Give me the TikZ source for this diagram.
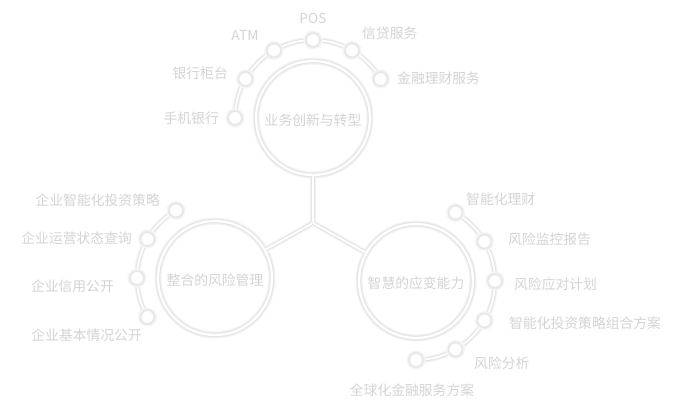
\documentclass[tikz,border=0pt]{standalone}
\usepackage{fontspec}
\setmainfont{Noto Sans CJK SC}
\usetikzlibrary{calc}
\begin{document}
\begin{tikzpicture}[x=1pt,y=1pt,
  lbl/.style={inner sep=0pt,text=black!17,font=\fontsize{13.8}{15}\selectfont},
  bigcirc/.style={circle,minimum size=114pt,inner sep=0pt,draw=white,line width=2.2pt,
    preaction={draw=black!5,line width=7pt},
    preaction={draw=black!10,line width=4.5pt}},
  dot/.style={circle,minimum size=14pt,inner sep=0pt,fill=white,draw=black!9,line width=2pt,
    preaction={draw=black!4,line width=5pt}},
  linkline/.style={draw=white,line width=1.8pt,
    preaction={draw=black!5,line width=6pt},
    preaction={draw=black!10,line width=3.8pt}}]
\fill[white] (0,0) rectangle (684,-413);
\useasboundingbox (0,0) rectangle (684,-413);
% centres
\coordinate (J) at (313,-223);
\coordinate (Tc) at (313,-118);
\coordinate (Lc) at (215,-278);
\coordinate (Rc) at (416,-281);
% big circles
\node[bigcirc] (T) at (Tc) {};
\node[bigcirc] (L) at (Lc) {};
\node[bigcirc] (R) at (Rc) {};
% connectors to junction
\path[linkline] (T) -- (J);
\path[linkline] (J) -- (L);
\path[linkline] (J) -- (R);
% arcs
\path[linkline] ($(Tc)+(180:78)$) arc[start angle=180,end angle=30,radius=78];
\path[linkline] ($(Lc)+(120:78)$) arc[start angle=120,end angle=210,radius=78];
\path[linkline] ($(Rc)+(60:79)$) arc[start angle=60,end angle=-90,radius=79];
% dots
\foreach \a/\n in {180/t1,150/t2,120/t3,90/t4,60/t5,30/t6}{\node[dot] (\n) at ($(Tc)+(\a:78)$) {};}
\foreach \a/\n in {120/l1,150/l2,180/l3,210/l4}{\node[dot] (\n) at ($(Lc)+(\a:78)$) {};}
\foreach \a/\n in {60/r1,30/r2,0/r3,-30/r4,-60/r5,-90/r6}{\node[dot] (\n) at ($(Rc)+(\a:79)$) {};}
% circle texts
\node[lbl] (tt) at (313,-120) {业务创新与转型};
\node[lbl] (lt) at (215,-280) {整合的风险管理};
\node[lbl] (rt) at (416,-283) {智慧的应变能力};
% top labels
\node[lbl,anchor=east] (a1) at (219,-118) {手机银行};
\node[lbl,anchor=east] (a2) at (228,-73) {银行柜台};
\node[lbl] (a3) at (245,-35) {ATM};
\node[lbl] (a4) at (313,-18) {POS};
\node[lbl,anchor=west] (a5) at (362,-33) {信贷服务};
\node[lbl,anchor=west] (a6) at (397,-78) {金融理财服务};
% left labels
\node[lbl,anchor=east] (b1) at (160,-200) {企业智能化投资策略};
\node[lbl,anchor=east] (b2) at (132,-238) {企业运营状态查询};
\node[lbl,anchor=east] (b3) at (114,-286) {企业信用公开};
\node[lbl,anchor=east] (b4) at (142,-335) {企业基本情况公开};
% right labels
\node[lbl,anchor=west] (c1) at (466,-199) {智能化理财};
\node[lbl,anchor=west] (c2) at (508,-239) {风险监控报告};
\node[lbl,anchor=west] (c3) at (514,-284) {风险应对计划};
\node[lbl,anchor=west] (c4) at (509,-323) {智能化投资策略组合方案};
\node[lbl,anchor=west] (c5) at (474,-363) {风险分析};
\node[lbl] (c6) at (412,-390) {全球化金融服务方案};
\end{tikzpicture}
\end{document}
